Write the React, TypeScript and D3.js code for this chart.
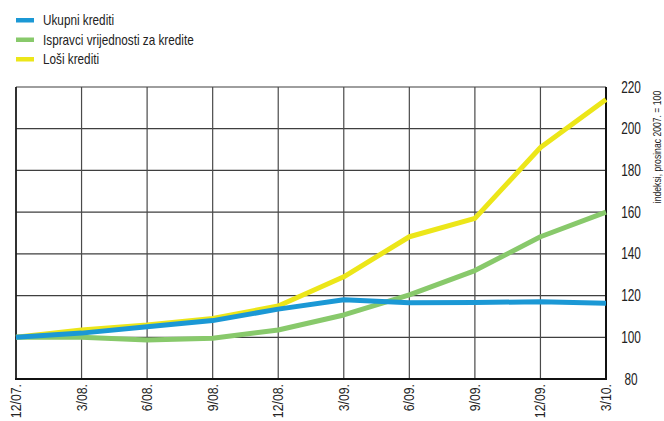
import React from "react";
import * as d3 from "d3";

const categories = ["12/07.", "3/08.", "6/08.", "9/08.", "12/08.", "3/09.", "6/09.", "9/09.", "12/09.", "3/10."];
const ukupni = [100, 102, 105, 108, 113.5, 118, 116.6, 116.7, 117, 116.3];
const ispravci = [100, 100, 98.7, 99.5, 103.5, 110.7, 120.3, 132, 148.2, 160];
const losi = [100, 103.5, 105.9, 109, 115, 129, 148.2, 157, 191, 214];
const yTicks = [80, 100, 120, 140, 160, 180, 200, 220];

const seriesList = [
  { name: "Loši krediti", values: losi, color: "#ece619" },
  { name: "Ispravci vrijednosti za kredite", values: ispravci, color: "#88c96b" },
  { name: "Ukupni krediti", values: ukupni, color: "#1b98d5" },
];
const legendItems = [
  { name: "Ukupni krediti", color: "#1b98d5" },
  { name: "Ispravci vrijednosti za kredite", color: "#88c96b" },
  { name: "Loši krediti", color: "#ece619" },
];

const FONT = "'Liberation Sans', Arial, sans-serif";

export default function App() {
  const left = 16, right = 606, top = 87, bottom = 379;
  const x = d3.scalePoint<string>().domain(categories).range([left, right]);
  const y = d3.scaleLinear().domain([80, 220]).range([bottom, top]);
  const line = d3.line<number>().x((_, i) => x(categories[i])!).y((d) => y(d));

  return (
    <svg width={664} height={421} style={{ position: "absolute", left: 0, top: 0, background: "#fff" }}>
      {/* legend */}
      {legendItems.map((l, i) => (
        <g key={l.name} transform={`translate(16, ${20 + i * 19.5})`}>
          <rect x={0} y={-2} width={18} height={4.5} fill={l.color} />
          <text transform="translate(27, 5) scale(0.84, 1)" fontFamily={FONT} fontSize={14} fill="#222">{l.name}</text>
        </g>
      ))}
      {/* horizontal grid */}
      {yTicks.map((t) => (
        <line key={"h" + t} x1={left} x2={right} y1={y(t)} y2={y(t)} stroke="#3f3f3f" strokeWidth={1.2} />
      ))}
      {/* vertical grid */}
      {categories.map((c) => (
        <line key={"v" + c} x1={x(c)} x2={x(c)} y1={top} y2={bottom} stroke="#4a4a4a" strokeWidth={1.2} />
      ))}
      {/* frame */}
      <line x1={left} x2={left} y1={top} y2={bottom} stroke="#111" strokeWidth={1.5} />
      <line x1={right} x2={right} y1={top} y2={bottom + 1} stroke="#111" strokeWidth={2} />
      <line x1={left - 1} x2={right + 1} y1={bottom} y2={bottom} stroke="#111" strokeWidth={2} />
      {/* series */}
      {seriesList.map((s) => (
        <path key={s.name} d={line(s.values)!} fill="none" stroke={s.color} strokeWidth={5} strokeLinejoin="round" />
      ))}
      {/* y ticks */}
      {yTicks.map((t) => (
        <text key={"yt" + t} transform={`translate(631, ${y(t) + 5.5}) scale(0.74, 1)`} textAnchor="middle" fontFamily={FONT} fontSize={16} fill="#222">{t}</text>
      ))}
      {/* y title */}
      <text transform={`translate(661, 147) rotate(-90) scale(0.75, 1)`} textAnchor="middle" fontFamily={FONT} fontSize={11.5} fill="#222">indeksi, prosinac 2007. = 100</text>
      {/* x labels */}
      {categories.map((c) => (
        <text key={"xl" + c} transform={`translate(${x(c)! + 5}, 384) rotate(-90) scale(0.88, 1)`} textAnchor="end" fontFamily={FONT} fontSize={14} fill="#222">{c}</text>
      ))}
    </svg>
  );
}
